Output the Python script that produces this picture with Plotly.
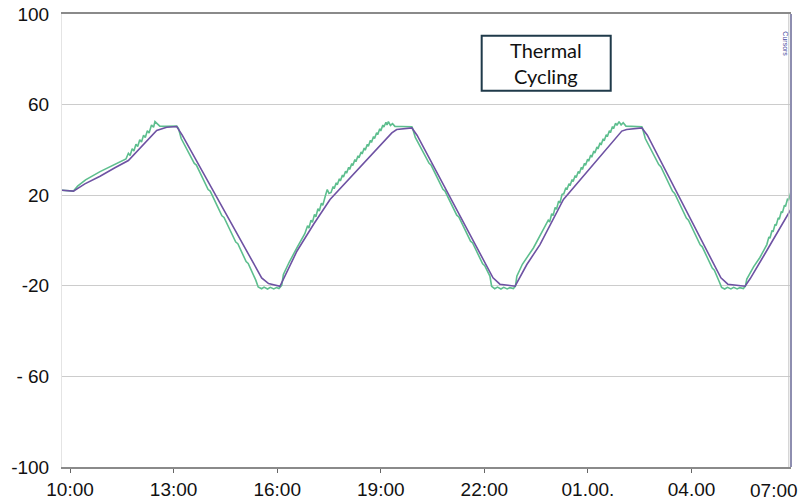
import plotly.graph_objects as go

# Time axis in hours after 10:00 (day 1); tick labels as printed on the logger chart
tick_hours = [0, 3, 6, 9, 12, 15, 18]
tick_text = ["10:00", "13:00", "16:00", "19:00", "22:00", "01.00.", "04.00"]
last_tick_text = "07:00"

y_ticks = [100, 60, 20, -20, -60, -100]
y_tick_text = ["100", "60", "20", "-20", "- 60", "-100"]

# Chamber setpoint / controlled temperature (purple trace), °C
setpoint_t = [-0.24, 0.10, 0.43, 0.87, 1.30, 1.69, 2.51, 2.80, 3.09,
              3.25, 5.55, 5.75, 6.08,
              6.20, 6.57, 7.05, 7.53, 9.32, 9.46, 9.90,
              10.05, 12.25, 12.45, 12.89,
              13.23, 13.61, 14.29, 15.98, 16.12, 16.56,
              16.72, 18.85, 19.05, 19.55,
              19.70, 20.10, 20.50, 20.90]
setpoint_v = [22.2, 21.8, 25.0, 28.4, 32.1, 35.3, 48.6, 50.0, 50.3,
              46.5, -16.5, -19.0, -20.2,
              -16.5, -4.75, 7.05, 18.1, 47.5, 49.0, 49.7,
              46.5, -16.5, -19.3, -20.2,
              -10.6, -1.8, 18.1, 48.3, 49.0, 49.7,
              46.5, -16.5, -19.3, -20.2,
              -16.8, -6.5, 4.0, 14.4]

# Measured sample temperature (green trace), °C
measured_t = [
    # cycle 1 heat-up
    -0.24, 0.10, 0.22, 0.45, 0.87, 1.30, 1.62,
    1.69, 1.74, 1.80, 1.85, 1.91, 1.96, 2.02, 2.07, 2.13, 2.18, 2.24, 2.29,
    2.36, 2.42, 2.46, 2.52, 2.60, 2.80, 3.09,
    # cycle 1 cool-down
    3.14, 3.22, 3.60, 3.66, 4.00, 4.06, 4.40, 4.46, 4.80, 4.86, 5.10, 5.16,
    5.38, 5.45,
    5.55, 5.62, 5.72, 5.80, 5.90, 5.98, 6.05, 6.10,
    # cycle 2 heat-up
    6.13, 6.18, 6.35, 6.57, 6.80,
    6.88, 6.92, 6.98, 7.02, 7.08, 7.12, 7.18, 7.22, 7.28, 7.32,
    7.40, 7.45, 7.50, 7.56,
    7.62, 7.65, 7.71, 7.74, 7.80, 7.83, 7.89, 7.92, 7.98, 8.01,
    8.07, 8.10, 8.16, 8.19, 8.25, 8.28, 8.34, 8.37, 8.43, 8.46,
    8.52, 8.55, 8.61, 8.64, 8.70, 8.73, 8.79, 8.82, 8.88, 8.91,
    8.97, 9.00, 9.06, 9.09, 9.15, 9.18,
    9.22, 9.28, 9.34, 9.41, 9.60, 9.90,
    # cycle 2 cool-down
    9.92, 10.00, 10.40, 10.46, 10.80, 10.86, 11.20, 11.26, 11.60, 11.66,
    11.95, 12.01, 12.16, 12.21,
    12.30, 12.38, 12.48, 12.56, 12.66, 12.74, 12.84, 12.90,
    # cycle 3 heat-up
    12.94, 13.10, 13.42, 13.75,
    13.85, 13.89, 13.95, 13.99, 14.05, 14.09, 14.15, 14.19, 14.25, 14.30,
    14.36, 14.39, 14.45, 14.48, 14.54, 14.57, 14.63, 14.66, 14.72, 14.75,
    14.81, 14.84, 14.90, 14.93, 14.99, 15.02, 15.08, 15.11, 15.17, 15.20,
    15.26, 15.29, 15.35, 15.38, 15.44, 15.47, 15.53, 15.56, 15.62, 15.65,
    15.71, 15.74, 15.80, 15.84,
    15.90, 15.96, 16.02, 16.10, 16.30, 16.56,
    # cycle 3 cool-down
    16.58, 16.66, 17.05, 17.11, 17.45, 17.51, 17.85, 17.91, 18.25, 18.31,
    18.60, 18.66, 18.80, 18.87,
    18.96, 19.04, 19.14, 19.22, 19.32, 19.40, 19.50, 19.56,
    # cycle 4 heat-up
    19.60, 19.80, 19.98, 20.18,
    20.24, 20.27, 20.33, 20.36, 20.42, 20.45, 20.51, 20.54, 20.60, 20.63,
    20.69, 20.72, 20.78, 20.81, 20.87, 20.90,
]
measured_v = [
    22.2, 21.8, 24.0, 26.8, 30.4, 33.6, 36.0,
    38.5, 37.5, 40.5, 39.5, 42.5, 41.5, 44.5, 43.5, 46.5, 45.5, 48.5, 47.5,
    51.0, 50.0, 52.5, 51.5, 50.5, 50.4, 50.5,
    49.5, 45.0, 34.0, 33.3, 22.5, 21.8, 10.9, 10.2, -0.7, -1.4, -9.3, -10.1,
    -17.5, -20.5,
    -21.3, -20.6, -21.4, -20.7, -21.4, -20.8, -21.2, -20.2,
    -19.8, -15.0, -9.5, -3.3, 3.0,
    6.5, 5.5, 9.0, 8.0, 11.5, 10.5, 14.0, 13.0, 16.5, 15.5,
    20.0, 22.5, 20.8, 21.2,
    23.8, 22.9, 25.5, 24.6, 27.2, 26.3, 28.9, 28.0, 30.6, 29.7,
    32.3, 31.4, 34.0, 33.1, 35.7, 34.8, 37.4, 36.5, 39.1, 38.2,
    40.8, 39.9, 42.5, 41.6, 44.2, 43.3, 45.9, 45.0, 47.6, 46.7,
    49.3, 48.4, 51.0, 50.1, 52.2, 51.0,
    52.5, 50.8, 51.6, 50.4, 50.3, 50.2,
    49.5, 45.5, 34.1, 33.2, 22.6, 21.8, 11.2, 10.4, -0.3, -1.1,
    -10.3, -11.1, -15.7, -20.2,
    -21.3, -20.6, -21.4, -20.7, -21.4, -20.8, -21.2, -20.2,
    -15.8, -10.5, -3.3, 6.0,
    9.0, 8.2, 11.8, 11.0, 14.6, 13.8, 17.4, 16.6, 20.4, 20.6,
    23.3, 22.4, 25.1, 24.2, 26.9, 26.0, 28.7, 27.8, 30.5, 29.6,
    32.3, 31.4, 34.1, 33.2, 35.9, 35.0, 37.7, 36.8, 39.5, 38.6,
    41.3, 40.4, 43.1, 42.2, 44.9, 44.0, 46.7, 45.8, 48.5, 47.6,
    50.3, 49.4, 51.8, 50.8,
    52.5, 51.0, 52.0, 50.5, 50.3, 50.2,
    49.5, 45.0, 33.5, 32.6, 21.7, 20.8, 9.9, 9.0, -1.9, -2.8,
    -12.2, -13.1, -18.1, -20.7,
    -21.4, -20.7, -21.4, -20.7, -21.4, -20.8, -21.2, -20.2,
    -17.0, -11.5, -7.5, -1.8,
    1.6, 1.0, 4.4, 3.8, 7.2, 6.6, 10.0, 9.4, 12.8, 12.2,
    15.6, 15.0, 18.4, 17.8, 21.0, 20.6,
]

GREEN = "#5dbe8e"
PURPLE = "#6e52a3"
TICK_FONT = dict(family="Liberation Sans", size=19, color="#111111")

fig = go.Figure()
fig.add_trace(go.Scatter(x=measured_t, y=measured_v, mode="lines",
                         line=dict(color=GREEN, width=1.6), name="Sample"))
fig.add_trace(go.Scatter(x=setpoint_t, y=setpoint_v, mode="lines",
                         line=dict(color=PURPLE, width=1.6), name="Chamber"))

fig.update_layout(
    width=801, height=501,
    margin=dict(l=62, r=10, t=14, b=34, autoexpand=False),
    paper_bgcolor="white", plot_bgcolor="white",
    showlegend=False,
    xaxis=dict(
        range=[-0.232, 20.88], automargin=False,
        tickmode="array", tickvals=tick_hours, ticktext=tick_text,
        ticks="outside", ticklen=4, tickwidth=1, tickcolor="#666666",
        tickfont=TICK_FONT, ticklabelstandoff=0,
        showgrid=False, zeroline=False,
        showline=True, linecolor="#8a8a8a", linewidth=1.5, mirror=True,
    ),
    yaxis=dict(
        range=[-100, 100], automargin=False,
        tickmode="array", tickvals=y_ticks, ticktext=y_tick_text,
        ticks="", tickfont=TICK_FONT, ticklabelstandoff=8,
        showgrid=True, gridcolor="#cccccc", gridwidth=1,
        zeroline=False, showline=True, linecolor="#e4e4e4", linewidth=1,
    ),
)

# Right-hand frame of the recorder window
fig.add_shape(type="line", xref="paper", yref="paper", x0=0.997, x1=0.997, y0=0, y1=1,
              line=dict(color="#c4c4c4", width=1))
fig.add_shape(type="line", xref="paper", yref="paper", x0=1.0, x1=1.0, y0=0, y1=1,
              line=dict(color="#8e8eb0", width=2))
fig.add_annotation(text="Cursors", xref="paper", yref="paper", x=0.9925, y=0.934,
                   xanchor="center", yanchor="middle",
                   textangle=90, showarrow=False,
                   font=dict(family="Liberation Sans", size=7, color="#4a4aa0"))

# Label box
fig.add_shape(type="rect", xref="paper", yref="paper",
              x0=0.5757, x1=0.7527, y0=0.8307, y1=0.9521,
              line=dict(color="#1f3a4a", width=2), fillcolor="white")
fig.add_annotation(text="Thermal<br>Cycling", xref="paper", yref="paper",
                   x=0.6642, y=0.8914, xanchor="center", yanchor="middle",
                   showarrow=False,
                   font=dict(family="Lato", size=20, color="#111111"))

# Final time label sits at the right edge of the chart
fig.add_annotation(text=last_tick_text, xref="paper", yref="paper",
                   x=1.0123, y=-0.0508, xanchor="right", yanchor="middle",
                   showarrow=False, font=TICK_FONT)

fig.write_html("out.html")
